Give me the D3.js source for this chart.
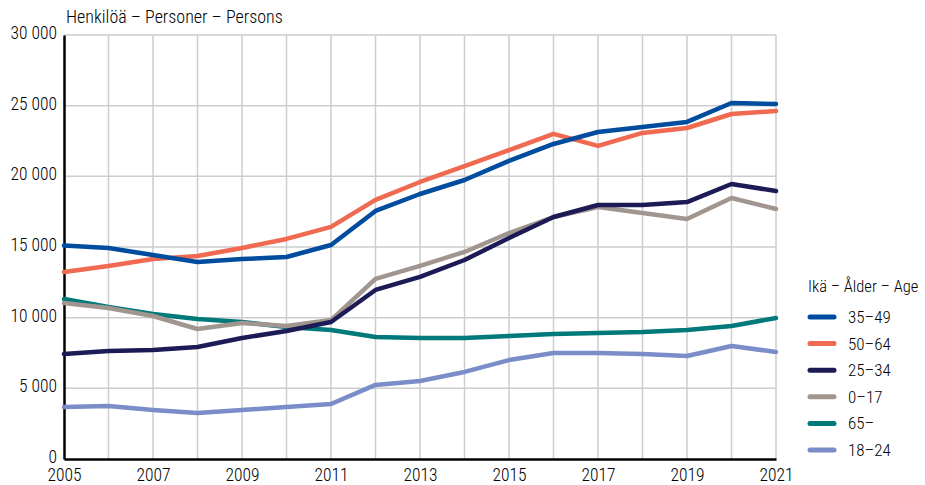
<!DOCTYPE html>
<html>
<head>
<meta charset="utf-8">
<script src="https://cdn.jsdelivr.net/npm/d3@7"></script>
<style>
  body { margin: 0; background: #fff; }
  svg text { font-family: "Roboto Condensed", "DejaVu Sans Condensed", "Roboto", sans-serif; font-weight: 300; fill: #000; }
</style>
</head>
<body>
<svg id="chart" width="925" height="485"></svg>
<script>
// Population by age group, 2005–2021
const years = d3.range(2005, 2022);
const yTicks = [0, 5000, 10000, 15000, 20000, 25000, 30000];
const xTickYears = [2005, 2007, 2009, 2011, 2013, 2015, 2017, 2019, 2021];

const age35_49 = [15100, 14930, 14430, 13940, 14150, 14290, 15140, 17550, 18750, 19740, 21090, 22290, 23140, 23490, 23850, 25190, 25120];
const age50_64 = [13230, 13660, 14150, 14360, 14930, 15570, 16420, 18330, 19600, 20730, 21860, 23000, 22150, 23070, 23420, 24410, 24620];
const age25_34 = [7430, 7640, 7710, 7920, 8560, 9060, 9690, 11960, 12880, 14080, 15640, 17120, 17970, 17970, 18180, 19460, 18960];
const age0_17  = [11040, 10680, 10120, 9200, 9620, 9410, 9830, 12740, 13660, 14650, 15990, 17120, 17830, 17410, 16980, 18470, 17690];
const age65    = [11320, 10750, 10260, 9910, 9690, 9340, 9130, 8630, 8560, 8560, 8700, 8840, 8920, 8990, 9130, 9410, 9980];
const age18_24 = [3680, 3750, 3470, 3250, 3470, 3680, 3890, 5240, 5520, 6160, 7000, 7500, 7500, 7430, 7290, 8000, 7570];

const seriesNames = ["35–49", "50–64", "25–34", "0–17", "65–", "18–24"];
const seriesColors = ["#004c9e", "#ef6a50", "#1c1b55", "#a1958f", "#00797a", "#7a8dc9"];
const seriesValues = [age35_49, age50_64, age25_34, age0_17, age65, age18_24];

const svg = d3.select("#chart");
const margin = { left: 64, right: 149, top: 35, bottom: 26 };
const W = 925, H = 485;

const x = d3.scaleLinear().domain([2005, 2021]).range([margin.left, W - margin.right]);
const y = d3.scaleLinear().domain([0, 30000]).range([H - margin.bottom, margin.top]);

const fmt = v => d3.format(",")(v).replace(/,/g, " ");

// grid
const grid = svg.append("g");
grid.selectAll("line.v").data(years.slice(1)).join("line")
  .attr("x1", d => x(d)).attr("x2", d => x(d))
  .attr("y1", y(0)).attr("y2", y(30000))
  .attr("stroke", "#cdcdcd").attr("stroke-width", 1.5);
grid.selectAll("line.h").data(yTicks.slice(1)).join("line")
  .attr("x1", x(2005)).attr("x2", x(2021))
  .attr("y1", d => y(d)).attr("y2", d => y(d))
  .attr("stroke", "#cdcdcd").attr("stroke-width", 1.5);

// axes
const yAxis = svg.append("g").attr("transform", `translate(${x(2005)},0)`)
  .call(d3.axisLeft(y).tickValues(yTicks).tickSize(0).tickPadding(7).tickFormat(fmt));
yAxis.select(".domain").attr("stroke", "#000").attr("stroke-width", 2.5);
yAxis.selectAll("text").attr("font-size", 17.5).attr("dy", "0.2em");

const xAxis = svg.append("g").attr("transform", `translate(0,${y(0)})`)
  .call(d3.axisBottom(x).tickValues(xTickYears).tickSize(0).tickPadding(10).tickFormat(d3.format("d")));
xAxis.select(".domain").attr("stroke", "#000").attr("stroke-width", 2.5);
xAxis.selectAll("text").attr("font-size", 17.5);

// lines
const line = d3.line().x((d, i) => x(years[i])).y(d => y(d));
svg.append("g").selectAll("path").data(seriesValues.map((v, i) => ({ v, i })).reverse()).join("path")
  .attr("d", d => line(d.v))
  .attr("fill", "none")
  .attr("stroke", d => seriesColors[d.i])
  .attr("stroke-width", 4.5)
  .attr("stroke-linejoin", "round")
  .attr("stroke-linecap", "round");

// title
svg.append("text").attr("x", 66).attr("y", 23).attr("font-size", 18)
  .text("Henkilöä – Personer – Persons");

// legend
const lg = svg.append("g").attr("transform", "translate(808,0)");
lg.append("text").attr("x", 0).attr("y", 292).attr("font-size", 16.5).text("Ikä – Ålder – Age");
const items = lg.selectAll("g.item").data(seriesNames).join("g")
  .attr("transform", (d, i) => `translate(0,${317 + i * 26.6})`);
items.append("line").attr("x1", 2).attr("x2", 26).attr("y1", 0).attr("y2", 0)
  .attr("stroke", (d, i) => seriesColors[i]).attr("stroke-width", 5).attr("stroke-linecap", "round");
items.append("text").attr("x", 40).attr("y", 6).attr("font-size", 17).text(d => d);
</script>
</body>
</html>
